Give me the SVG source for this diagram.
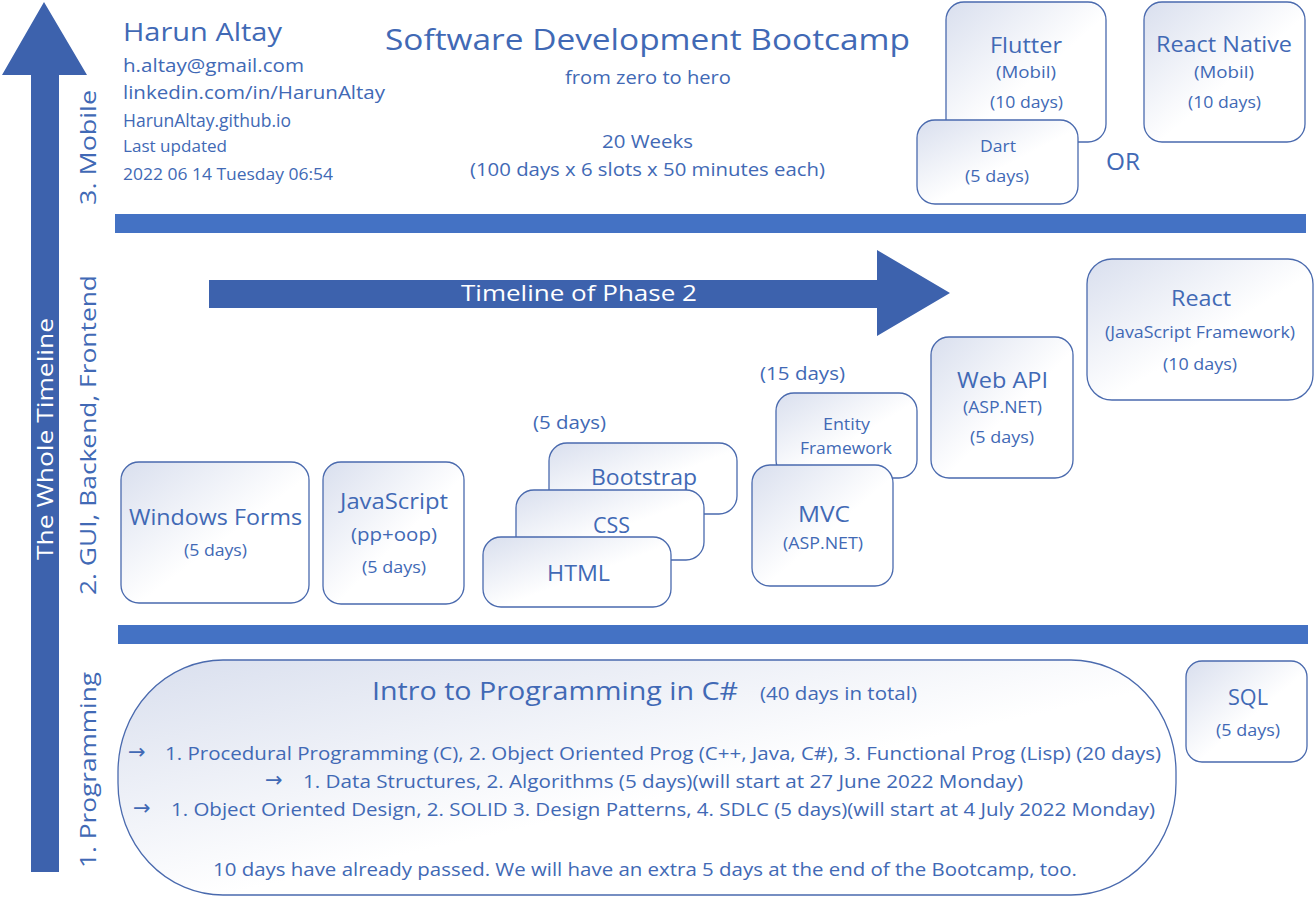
<svg xmlns="http://www.w3.org/2000/svg" width="1315" height="897" viewBox="0 0 1315 897">
<defs>
<linearGradient id="g" x1="0" y1="0" x2="1" y2="1">
<stop offset="0" stop-color="#d9dfee"/>
<stop offset="0.55" stop-color="#ffffff"/>
<stop offset="1" stop-color="#ffffff"/>
</linearGradient>
<style>
text{font-family:"Open Sans","Liberation Sans",sans-serif;fill:#4169b5}
.box{fill:url(#g);stroke:#4a6aae;stroke-width:1.3}
.w{fill:#ffffff}
.big{font-size:22px}
.mid{font-size:19px}
.sm{font-size:16px}
.ar{font-family:"DejaVu Sans",sans-serif;font-size:21px}
.bar{fill:#4472c4}
.arr{fill:#3d62ad}
</style>
</defs>
<rect width="1315" height="897" fill="#ffffff"/>

<g id="whole-timeline">
<polygon class="arr" points="44,2 87,75 59,75 59,872 31,872 31,75 2,75"/>
<text class="w" font-size="22" textLength="242" lengthAdjust="spacingAndGlyphs" transform="translate(53,560) rotate(-90)">The Whole Timeline</text>
</g>
<g id="phase-labels">
<text font-size="22" textLength="115" lengthAdjust="spacingAndGlyphs" transform="translate(96,205) rotate(-90)">3. Mobile</text>
<text font-size="22" textLength="320" lengthAdjust="spacingAndGlyphs" transform="translate(96,595) rotate(-90)">2. GUI, Backend, Frontend</text>
<text font-size="22" textLength="196" lengthAdjust="spacingAndGlyphs" transform="translate(96,868) rotate(-90)">1. Programming</text>
</g>
<g id="separators">
<rect class="bar" x="115" y="214" width="1191" height="19"/>
<rect class="bar" x="118" y="625" width="1190" height="19"/>
</g>

<g id="author">
<text x="123" y="41" font-size="26" textLength="159" lengthAdjust="spacingAndGlyphs">Harun Altay</text>
<text x="123" y="72" class="mid" textLength="181" lengthAdjust="spacingAndGlyphs">h.altay@gmail.com</text>
<text x="123" y="99" class="mid" textLength="262" lengthAdjust="spacingAndGlyphs">linkedin.com/in/HarunAltay</text>
<text x="123" y="127" class="mid" textLength="168" lengthAdjust="spacingAndGlyphs">HarunAltay.github.io</text>
<text x="123" y="152" class="sm" textLength="104" lengthAdjust="spacingAndGlyphs">Last updated</text>
<text x="123" y="180" class="sm" textLength="210" lengthAdjust="spacingAndGlyphs">2022 06 14 Tuesday 06:54</text>
</g>
<g id="title">
<text x="385" y="50" font-size="30" textLength="525" lengthAdjust="spacingAndGlyphs">Software Development Bootcamp</text>
<text x="565" y="84" class="mid" textLength="166" lengthAdjust="spacingAndGlyphs">from zero to hero</text>
<text x="602" y="148" class="mid" textLength="91" lengthAdjust="spacingAndGlyphs">20 Weeks</text>
<text x="470" y="176" class="mid" textLength="355" lengthAdjust="spacingAndGlyphs">(100 days x 6 slots x 50 minutes each)</text>
</g>

<g id="flutter">
<rect class="box" x="946" y="2" width="160" height="140" rx="18"/>
<text x="990" y="53" class="big" textLength="72" lengthAdjust="spacingAndGlyphs">Flutter</text>
<text x="996" y="78" class="sm" textLength="60" lengthAdjust="spacingAndGlyphs">(Mobil)</text>
<text x="990" y="108" class="sm" textLength="73" lengthAdjust="spacingAndGlyphs">(10 days)</text>
</g>
<g id="dart">
<rect class="box" x="917" y="120" width="161" height="84" rx="18"/>
<text x="980" y="152" class="sm" textLength="36" lengthAdjust="spacingAndGlyphs">Dart</text>
<text x="965" y="182" class="sm" textLength="64" lengthAdjust="spacingAndGlyphs">(5 days)</text>
</g>
<g id="react-native">
<rect class="box" x="1144" y="2" width="161" height="140" rx="18"/>
<text x="1156" y="52" class="big" textLength="136" lengthAdjust="spacingAndGlyphs">React Native</text>
<text x="1194" y="78" class="sm" textLength="60" lengthAdjust="spacingAndGlyphs">(Mobil)</text>
<text x="1188" y="108" class="sm" textLength="73" lengthAdjust="spacingAndGlyphs">(10 days)</text>
</g>
<text id="or" x="1106" y="170" font-size="24" textLength="34" lengthAdjust="spacingAndGlyphs">OR</text>

<g id="timeline-phase2">
<polygon class="arr" points="209,280 877,280 877,250 950,293 877,336 877,308 209,308"/>
<text x="461" y="301" class="w big" textLength="236" lengthAdjust="spacingAndGlyphs">Timeline of Phase 2</text>
</g>

<g id="windows-forms">
<rect class="box" x="121" y="462" width="188" height="141" rx="18"/>
<text x="129" y="525" class="big" textLength="173" lengthAdjust="spacingAndGlyphs">Windows Forms</text>
<text x="184" y="556" class="sm" textLength="63" lengthAdjust="spacingAndGlyphs">(5 days)</text>
</g>
<g id="javascript">
<rect class="box" x="323" y="462" width="141" height="142" rx="18"/>
<text x="340" y="509" class="big" textLength="108" lengthAdjust="spacingAndGlyphs">JavaScript</text>
<text x="351" y="541" class="mid" textLength="86" lengthAdjust="spacingAndGlyphs">(pp+oop)</text>
<text x="362" y="573" class="sm" textLength="64" lengthAdjust="spacingAndGlyphs">(5 days)</text>
</g>
<text id="web-days" x="533" y="429" class="mid" textLength="73" lengthAdjust="spacingAndGlyphs">(5 days)</text>
<g id="bootstrap">
<rect class="box" x="549" y="443" width="188" height="71" rx="18"/>
<text x="591" y="485" class="big" textLength="106" lengthAdjust="spacingAndGlyphs">Bootstrap</text>
</g>
<g id="css">
<rect class="box" x="516" y="490" width="188" height="70" rx="18"/>
<text x="593" y="533" class="big" textLength="37" lengthAdjust="spacingAndGlyphs">CSS</text>
</g>
<g id="html">
<rect class="box" x="483" y="537" width="188" height="70" rx="18"/>
<text x="547" y="581" class="big" textLength="63" lengthAdjust="spacingAndGlyphs">HTML</text>
</g>
<text id="aspnet-days" x="760" y="380" class="mid" textLength="85" lengthAdjust="spacingAndGlyphs">(15 days)</text>
<g id="entity-framework">
<rect class="box" x="776" y="393" width="141" height="85" rx="18"/>
<text x="823" y="430" class="sm" textLength="47" lengthAdjust="spacingAndGlyphs">Entity</text>
<text x="800" y="454" class="sm" textLength="92" lengthAdjust="spacingAndGlyphs">Framework</text>
</g>
<g id="mvc">
<rect class="box" x="752" y="465" width="141" height="121" rx="18"/>
<text x="798" y="522" class="big" textLength="52" lengthAdjust="spacingAndGlyphs">MVC</text>
<text x="783" y="549" class="sm" textLength="80" lengthAdjust="spacingAndGlyphs">(ASP.NET)</text>
</g>
<g id="web-api">
<rect class="box" x="931" y="337" width="142" height="141" rx="18"/>
<text x="957" y="388" class="big" textLength="91" lengthAdjust="spacingAndGlyphs">Web API</text>
<text x="963" y="413" class="sm" textLength="79" lengthAdjust="spacingAndGlyphs">(ASP.NET)</text>
<text x="970" y="443" class="sm" textLength="64" lengthAdjust="spacingAndGlyphs">(5 days)</text>
</g>
<g id="react">
<rect class="box" x="1087" y="259" width="226" height="141" rx="25"/>
<text x="1171" y="306" class="big" textLength="60" lengthAdjust="spacingAndGlyphs">React</text>
<text x="1105" y="338" class="sm" textLength="190" lengthAdjust="spacingAndGlyphs">(JavaScript Framework)</text>
<text x="1163" y="370" class="sm" textLength="74" lengthAdjust="spacingAndGlyphs">(10 days)</text>
</g>

<g id="intro-csharp">
<rect class="box" x="118" y="660" width="1058" height="235" rx="105" ry="112"/>
<text x="372" y="700" font-size="26" textLength="366" lengthAdjust="spacingAndGlyphs">Intro to Programming in C#</text>
<text x="760" y="700" font-size="18" textLength="157" lengthAdjust="spacingAndGlyphs">(40 days in total)</text>
<text x="128" y="759" class="ar">→</text>
<text x="165" y="760" class="mid" textLength="996" lengthAdjust="spacingAndGlyphs">1. Procedural Programming (C), 2. Object Oriented Prog (C++, Java, C#), 3. Functional Prog (Lisp) (20 days)</text>
<text x="265" y="787" class="ar">→</text>
<text x="303" y="788" class="mid" textLength="720" lengthAdjust="spacingAndGlyphs">1. Data Structures, 2. Algorithms (5 days)(will start at 27 June 2022 Monday)</text>
<text x="133" y="815" class="ar">→</text>
<text x="171" y="816" class="mid" textLength="984" lengthAdjust="spacingAndGlyphs">1. Object Oriented Design, 2. SOLID 3. Design Patterns, 4. SDLC (5 days)(will start at 4 July 2022 Monday)</text>
<text x="213" y="876" class="mid" textLength="864" lengthAdjust="spacingAndGlyphs">10 days have already passed. We will have an extra 5 days at the end of the Bootcamp, too.</text>
</g>
<g id="sql">
<rect class="box" x="1186" y="661" width="121" height="101" rx="16"/>
<text x="1228" y="705" class="big" textLength="40" lengthAdjust="spacingAndGlyphs">SQL</text>
<text x="1216" y="736" class="sm" textLength="64" lengthAdjust="spacingAndGlyphs">(5 days)</text>
</g>
<g id="connectors"></g>
</svg>
